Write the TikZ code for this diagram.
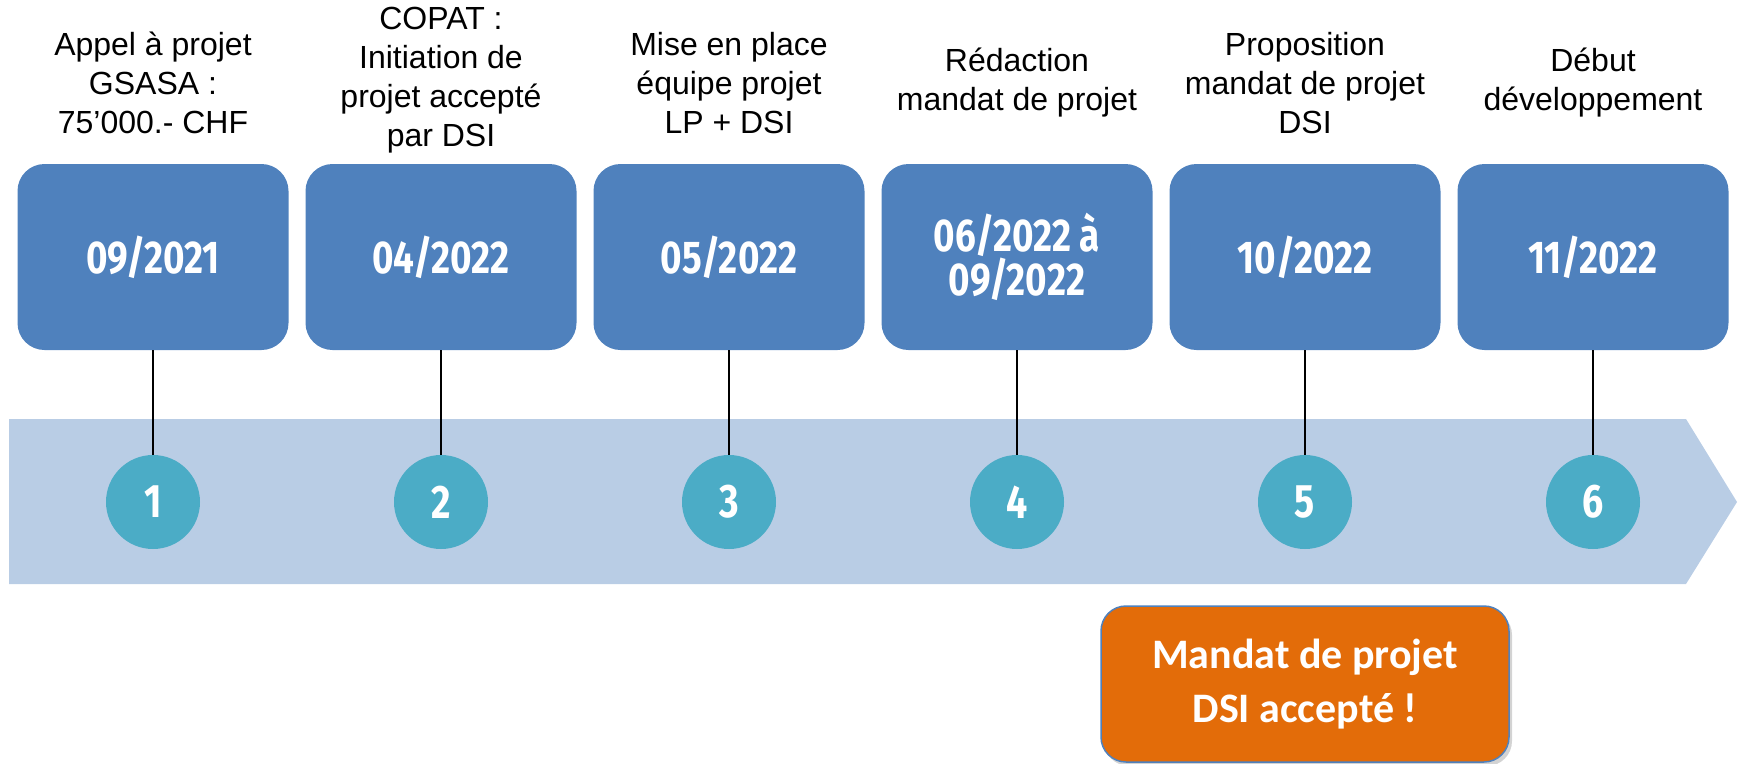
\documentclass[tikz,border=0pt]{standalone}
\usepackage{fontspec}
\setmainfont{Liberation Sans}
\newfontfamily\datefont[FakeStretch=0.8]{Fira Sans}
\newfontfamily\calfont{Carlito}
\usetikzlibrary{shadows}
\definecolor{boxblue}{HTML}{4F81BD}
\definecolor{bandblue}{HTML}{B9CDE5}
\definecolor{circteal}{HTML}{4BACC6}
\definecolor{orangebox}{HTML}{E36C09}
\begin{document}
\begin{tikzpicture}[x=1pt,y=-1pt,
  datebox/.style={rectangle, rounded corners=27pt, fill=boxblue, minimum width=271pt, minimum height=186pt, inner sep=0pt, text=white, font=\datefont\bfseries\fontsize{46}{42}\selectfont, align=center},
  stepcirc/.style={circle, fill=circteal, minimum size=94pt, inner sep=0pt, text=white, font=\datefont\bfseries\fontsize{47}{47}\selectfont},
  toplabel/.style={align=center, font=\fontsize{32}{39}\selectfont, inner sep=0pt},
  conn/.style={line width=2pt, black},
  notebox/.style={rectangle, rounded corners=25pt, fill=orangebox, draw=boxblue, line width=1.5pt, minimum width=408pt, minimum height=156pt, text=white, align=center, font=\calfont\bfseries\fontsize{42}{54}\selectfont, drop shadow={shadow xshift=3pt, shadow yshift=-4pt, opacity=0.35}}]
\useasboundingbox (0,0) rectangle (1742,763);
% band arrow
\fill[bandblue] (9,419) -- (1686,419) -- (1737,502) -- (1686,584) -- (9,584) -- cycle;
% boxes
\node[datebox] (b1) at (153,257) {09/2021};
\node[datebox] (b2) at (441,257) {04/2022};
\node[datebox] (b3) at (729,257) {05/2022};
\node[datebox] (b4) at (1017,257) {06/2022 à\\09/2022};
\node[datebox] (b5) at (1305,257) {10/2022};
\node[datebox] (b6) at (1593,257) {11/2022};
% circles
\node[stepcirc] (c1) at (153,502) {1};
\node[stepcirc] (c2) at (441,502) {2};
\node[stepcirc] (c3) at (729,502) {3};
\node[stepcirc] (c4) at (1017,502) {4};
\node[stepcirc] (c5) at (1305,502) {5};
\node[stepcirc] (c6) at (1593,502) {6};
% connectors
\foreach \i in {1,...,6}{\draw[conn] (b\i.south) -- (c\i.north);}
% labels
\node[toplabel] (l1) at (153,83) {Appel à projet\\GSASA :\\75’000.- CHF};
\node[toplabel] (l2) at (441,80) {COPAT :\\Initiation de\\projet accepté\\par DSI};
\node[toplabel] (l3) at (729,83) {Mise en place\\équipe projet\\LP + DSI};
\node[toplabel] (l4) at (1017,83) {Rédaction\\mandat de projet};
\node[toplabel] (l5) at (1305,83) {Proposition\\mandat de projet\\DSI};
\node[toplabel] (l6) at (1593,83) {Début\\développement};
% note
\node[notebox] (n) at (1305,684) {Mandat de projet\\DSI accepté !};
\end{tikzpicture}
\end{document}
